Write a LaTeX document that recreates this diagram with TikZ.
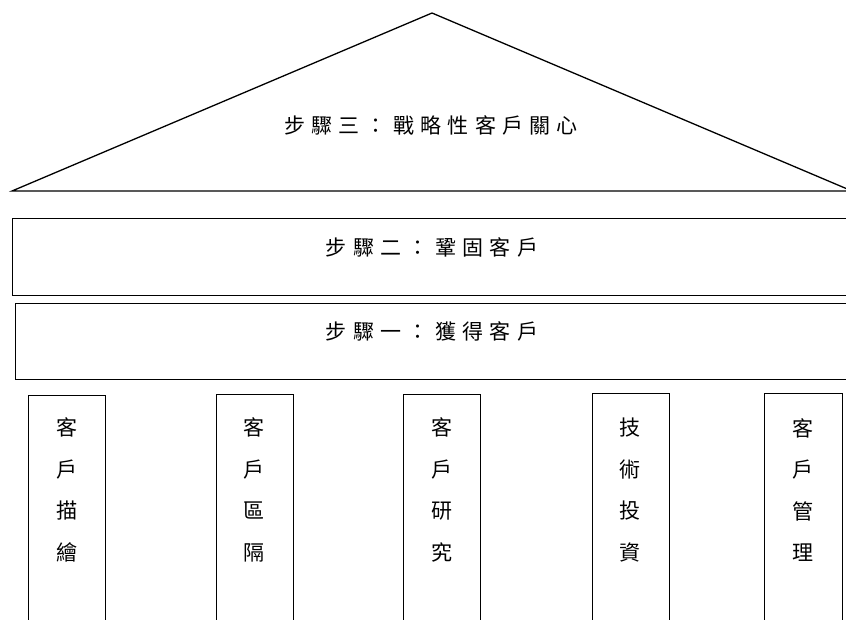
\documentclass[tikz,border=0pt]{standalone}
\usepackage{fontspec}
\newfontfamily\cjk{Noto Sans CJK TC}
\begin{document}
\begin{tikzpicture}[x=1pt,y=-1pt,line width=1.3pt,
  htext/.style={font=\cjk\fontsize{21}{21}\selectfont\addfontfeature{LetterSpace=30},inner sep=0pt},
  vtext/.style={font=\cjk\fontsize{21}{41.5}\selectfont,align=center,inner sep=0pt},
  band/.style={draw,rectangle,anchor=north west,inner sep=0pt,minimum width=840pt},
  pillar/.style={draw,rectangle,anchor=north west,inner sep=0pt,minimum width=77pt,minimum height=240pt}]
\useasboundingbox (0,0) rectangle (846,619);
\clip (0,0) rectangle (846,619);
% roof
\coordinate (apex) at (432,13);
\coordinate (roofL) at (12,191);
\coordinate (roofR) at (852,191);
\draw (roofL) -- (apex) -- (roofR) -- cycle;
\node[htext] (s3) at (431,125) {步驟三：戰略性客戶關心};
% bands
\node[band,minimum height=77pt] (b2) at (12,218) {};
\node[htext] (s2) at (432,247) {步驟二：鞏固客戶};
\node[band,minimum height=76pt] (b1) at (15,303) {};
\node[htext] (s1) at (432,331) {步驟一：獲得客戶};
% pillars
\node[pillar] (p1) at (28,395) {};
\node[pillar] (p2) at (216,394) {};
\node[pillar] (p3) at (403,394) {};
\node[pillar] (p4) at (592,393) {};
\node[pillar,minimum width=78pt] (p5) at (764,393) {};
\node[vtext] (t1) at (67,490) {客\\戶\\描\\繪};
\node[vtext] (t2) at (254,490) {客\\戶\\區\\隔};
\node[vtext] (t3) at (442,490) {客\\戶\\研\\究};
\node[vtext] (t4) at (630,490) {技\\術\\投\\資};
\node[vtext] (t5) at (803,490) {客\\戶\\管\\理};
\end{tikzpicture}
\end{document}
